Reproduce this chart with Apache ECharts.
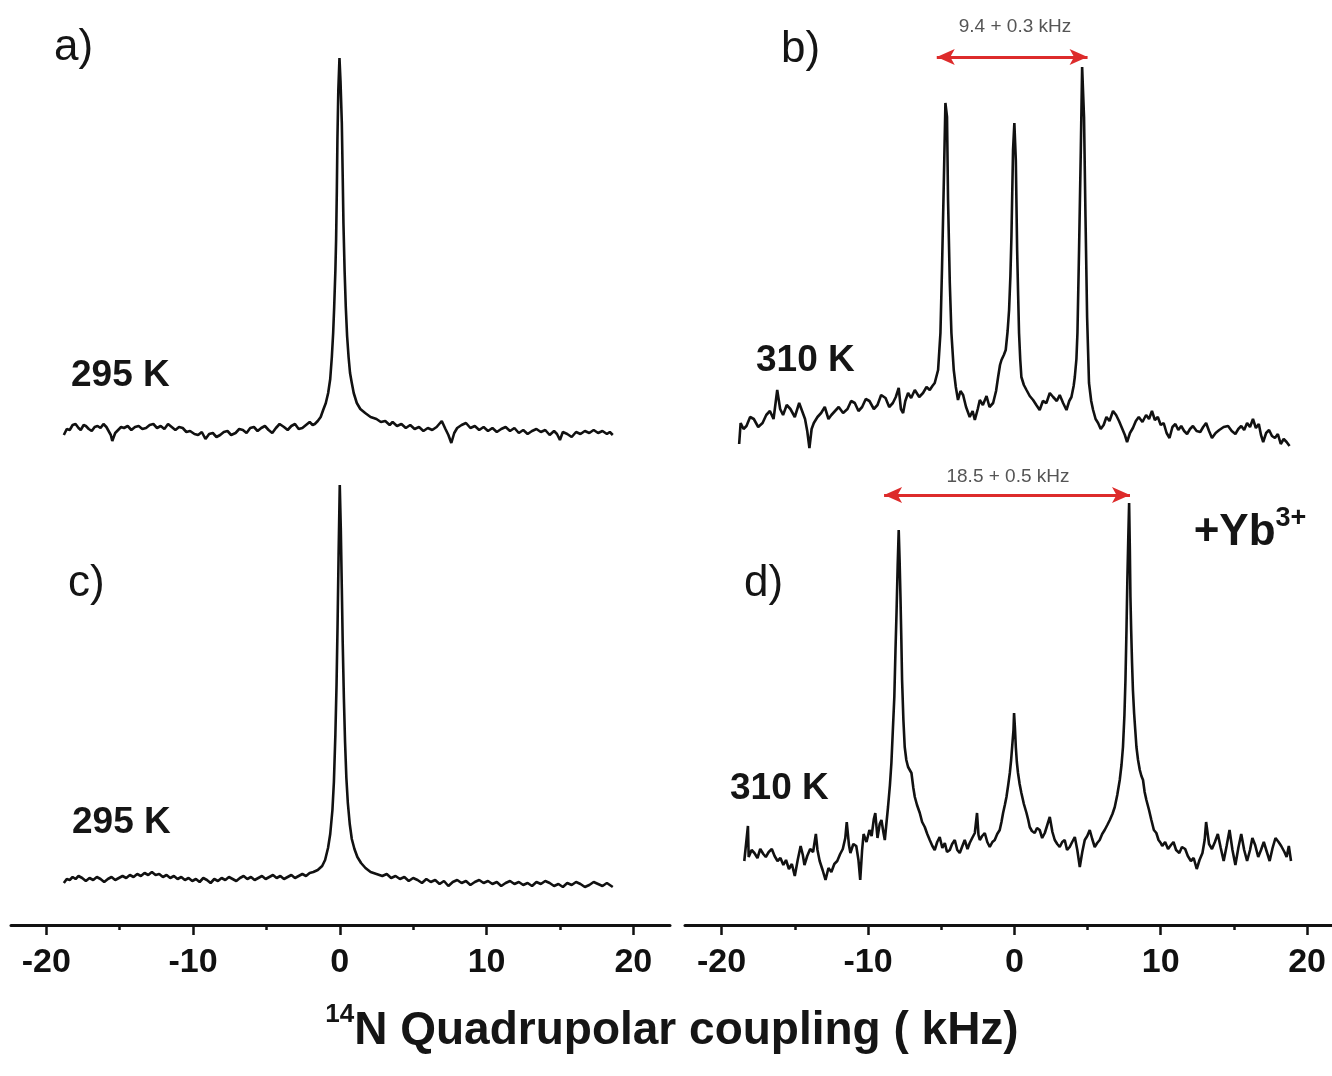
<!DOCTYPE html>
<html>
<head>
<meta charset="utf-8">
<script src="https://cdn.jsdelivr.net/npm/echarts@6/dist/echarts.min.js"></script>
<style>
  html, body { margin: 0; padding: 0; background: #fff; }
  #chart { width: 1332px; height: 1076px; }
</style>
</head>
<body>
<div id="chart"></div>
<script>
// 14N spectra, [kHz, intensity a.u.]
const specA = [[-18.8,-4],[-18.6,2],[-18.4,1],[-18.2,6],[-18.0,7],[-17.8,3],[-17.65,1],[-17.45,6],[-17.3,5],[-17.1,2],[-16.9,0],[-16.7,4],[-16.5,5],[-16.3,3],[-16.1,7],[-15.9,4],[-15.75,0],[-15.6,-4],[-15.5,-10],[-15.3,-2],[-15.1,1],[-14.9,4],[-14.7,3],[-14.45,5],[-14.2,1],[-13.95,4],[-13.7,5],[-13.45,2],[-13.2,3],[-12.95,6],[-12.7,7],[-12.45,3],[-12.2,5],[-11.95,2],[-11.7,7],[-11.45,4],[-11.2,1],[-10.95,4],[-10.7,3],[-10.45,-1],[-10.2,0],[-9.9,-3],[-9.65,-4],[-9.4,-1],[-9.15,-8],[-8.9,-3],[-8.65,-2],[-8.4,-6],[-8.15,-4],[-7.9,-1],[-7.65,0],[-7.4,-4],[-7.1,-2],[-6.85,2],[-6.6,1],[-6.35,-2],[-6.1,3],[-5.85,4],[-5.6,0],[-5.35,3],[-5.1,5],[-4.85,1],[-4.6,-2],[-4.35,3],[-4.1,7],[-3.8,4],[-3.55,1],[-3.3,5],[-3.05,7],[-2.8,2],[-2.55,3],[-2.3,6],[-2.05,9],[-1.85,6],[-1.7,7],[-1.5,10],[-1.3,14],
  [-1.13,21],[-0.95,28],[-0.79,38],[-0.65,52],[-0.54,74],[-0.45,98],[-0.38,124],[-0.3,160],[-0.25,191],[-0.2,240],[-0.16,291],[-0.1,340],[-0.02,373],[0.05,350],[0.14,308],[0.2,255],[0.25,208],[0.33,160],[0.41,124],[0.5,95],[0.6,74],[0.7,58],[0.82,48],[0.95,38],[1.16,28],[1.4,22],[1.73,18],[2.1,14],[2.5,12],
  [2.8,9],[3.1,10],[3.4,6],[3.6,9],[3.9,5],[4.2,7],[4.5,3],[4.8,6],[5.1,2],[5.4,4],[5.7,0],[6.0,3],[6.3,1],[6.6,4],[6.95,10],[7.2,2],[7.4,-4],[7.6,-12],[7.8,-2],[8.0,3],[8.3,6],[8.6,8],[8.9,3],[9.2,5],[9.5,1],[9.8,4],[10.1,0],[10.4,3],[10.7,-1],[11.0,2],[11.3,4],[11.6,0],[11.9,3],[12.2,-2],[12.5,1],[12.8,-3],[13.1,0],[13.4,2],[13.7,-1],[14.0,1],[14.3,-4],[14.6,0],[14.8,-3],[15.0,-9],[15.2,-1],[15.5,-3],[15.8,-6],[16.1,-1],[16.4,-3],[16.7,0],[17.0,-2],[17.3,1],[17.6,-2],[17.9,0],[18.2,-3],[18.4,-1],[18.6,-4]]

const specB = [[-18.8,-13],[-18.7,8],[-18.5,2],[-18.3,5],[-18.05,14],[-17.8,12],[-17.5,4],[-17.2,8],[-16.95,16],[-16.7,20],[-16.45,12],[-16.2,41],[-16.0,22],[-15.8,16],[-15.55,26],[-15.3,22],[-15.0,14],[-14.7,28],[-14.5,20],[-14.3,12],[-14.15,0],[-14.0,-17],[-13.85,2],[-13.7,8],[-13.45,14],[-13.2,18],[-12.95,24],[-12.7,12],[-12.5,16],[-12.25,20],[-12.0,24],[-11.7,18],[-11.4,22],[-11.15,30],[-10.9,28],[-10.65,20],[-10.4,24],[-10.15,32],[-9.9,30],[-9.6,22],[-9.35,26],[-9.1,36],[-8.8,33],[-8.55,24],[-8.3,28],[-8.1,34],[-7.9,43],[-7.75,22],[-7.6,18],[-7.45,30],[-7.26,38],[-7.05,33],[-6.8,41],[-6.5,34],[-6.24,38],[-6.0,44],[-5.78,41],[-5.6,45],[-5.44,48],[-5.21,61],
  [-5.05,98],[-4.94,164],[-4.82,248],[-4.71,328],[-4.6,314],[-4.53,231],[-4.41,148],[-4.3,98],[-4.14,61],[-4.0,44],[-3.85,31],[-3.68,40],[-3.5,36],[-3.3,24],[-3.05,14],[-2.85,20],[-2.7,11],[-2.5,22],[-2.36,31],[-2.15,26],[-1.9,35],[-1.7,24],[-1.45,28],[-1.25,40],[-1.11,54],[-0.98,66],[-0.88,71],[-0.72,76],[-0.59,81],[-0.46,100],[-0.36,121],[-0.27,155],[-0.2,194],[-0.09,281],[0.0,308],[0.1,271],[0.19,181],[0.26,135],[0.32,98],[0.4,72],[0.48,54],[0.65,46],[0.83,41],[1.05,35],[1.28,31],[1.5,26],[1.73,21],[1.95,30],[2.19,28],[2.42,38],[2.65,34],[2.9,30],[3.1,36],[3.33,28],[3.56,21],[3.75,30],[3.9,34],[4.05,45],[4.13,54],[4.24,72],[4.31,98],[4.42,181],[4.54,281],[4.63,364],[4.76,314],[4.86,214],[4.97,114],[5.1,48],[5.25,30],[5.38,21],[5.55,12],[5.72,8],[5.9,2],[6.1,6],[6.29,14],[6.5,10],[6.74,20],[6.95,16],[7.15,10],[7.35,3],[7.55,-4],[7.7,-11],[7.9,-2],[8.1,3],[8.3,10],[8.5,14],[8.75,9],[9.0,16],[9.2,12],[9.4,20],[9.6,11],[9.8,14],[10.0,6],[10.2,8],[10.4,-2],[10.6,-7],[10.8,4],[11.0,7],[11.2,1],[11.4,5],[11.6,0],[11.8,-3],[12.0,2],[12.2,5],[12.45,0],[12.7,-1],[12.9,4],[13.1,8],[13.3,0],[13.5,-7],[13.75,-2],[14.0,1],[14.3,4],[14.6,5],[14.85,0],[15.1,-3],[15.3,2],[15.5,5],[15.7,1],[15.9,8],[16.1,4],[16.3,12],[16.5,3],[16.7,7],[16.85,-4],[17.0,-11],[17.2,-2],[17.4,1],[17.6,-5],[17.8,-7],[18.0,-3],[18.2,-13],[18.4,-8],[18.6,-11],[18.8,-15]]

const specC = [[-18.8,-3],[-18.6,1],[-18.4,0],[-18.2,3],[-18.0,1],[-17.8,4],[-17.55,2],[-17.3,-1],[-17.05,2],[-16.8,0],[-16.55,3],[-16.3,1],[-16.05,-2],[-15.8,1],[-15.55,3],[-15.3,0],[-15.05,2],[-14.8,4],[-14.55,2],[-14.3,5],[-14.05,3],[-13.8,6],[-13.55,4],[-13.3,7],[-13.05,5],[-12.8,8],[-12.55,5],[-12.3,6],[-12.05,3],[-11.8,5],[-11.55,2],[-11.3,4],[-11.05,1],[-10.8,3],[-10.55,0],[-10.3,2],[-10.05,-1],[-9.8,1],[-9.55,-2],[-9.3,2],[-9.05,0],[-8.8,-3],[-8.55,1],[-8.3,-1],[-8.05,2],[-7.8,0],[-7.55,3],[-7.3,1],[-7.05,-1],[-6.8,2],[-6.55,4],[-6.3,1],[-6.05,3],[-5.8,0],[-5.55,2],[-5.3,4],[-5.05,1],[-4.8,3],[-4.55,5],[-4.3,2],[-4.05,4],[-3.8,1],[-3.55,3],[-3.3,5],[-3.05,2],[-2.8,4],[-2.55,6],[-2.3,4],[-2.05,7],[-1.8,8],
  [-1.5,10],[-1.2,14],[-1.0,20],[-0.8,32],[-0.65,46],[-0.5,70],[-0.4,98],[-0.3,145],[-0.22,195],[-0.15,255],[-0.08,325],[0.0,395],[0.07,352],[0.14,292],[0.2,238],[0.28,182],[0.36,138],[0.45,102],[0.55,77],[0.68,56],[0.82,41],[1.0,31],[1.2,23],[1.45,17],[1.75,12],[2.1,8],[2.5,6],
  [2.9,4],[3.2,6],[3.5,2],[3.8,4],[4.1,1],[4.4,3],[4.7,-1],[5.0,2],[5.3,0],[5.6,-3],[5.9,1],[6.2,-2],[6.5,0],[6.8,-4],[7.1,-1],[7.4,-6],[7.7,-2],[8.0,0],[8.3,-3],[8.6,-1],[8.9,-5],[9.2,-2],[9.5,0],[9.8,-3],[10.1,-1],[10.4,-4],[10.7,-2],[11.0,-6],[11.3,-3],[11.6,-1],[11.9,-4],[12.2,-2],[12.5,-5],[12.8,-3],[13.1,-6],[13.4,-2],[13.7,-4],[14.0,-1],[14.3,-3],[14.6,-6],[14.9,-4],[15.2,-7],[15.5,-3],[15.8,-5],[16.1,-2],[16.4,-4],[16.7,-7],[17.0,-5],[17.3,-2],[17.6,-4],[17.9,-6],[18.2,-3],[18.4,-5],[18.6,-7]]

const specD = [[-18.45,19],[-18.3,40],[-18.2,54],[-18.15,23],[-17.95,30],[-17.76,27],[-17.55,22],[-17.36,31],[-17.15,26],[-16.98,23],[-16.78,28],[-16.57,31],[-16.38,24],[-16.18,19],[-15.98,22],[-15.78,15],[-15.6,20],[-15.4,11],[-15.2,16],[-15.0,4],[-14.8,20],[-14.6,34],[-14.45,25],[-14.34,15],[-14.15,24],[-13.95,31],[-13.75,28],[-13.56,46],[-13.45,30],[-13.3,19],[-13.1,10],[-12.9,0],[-12.7,12],[-12.5,8],[-12.3,16],[-12.1,19],[-11.9,26],[-11.72,31],[-11.55,42],[-11.45,58],[-11.3,35],[-11.2,27],[-11.0,36],[-10.8,34],[-10.65,20],[-10.53,0],[-10.4,30],[-10.3,46],[-10.1,38],[-9.9,50],[-9.75,44],[-9.6,61],[-9.5,67],[-9.35,42],[-9.2,56],[-9.08,60],[-8.95,48],[-8.85,40],[-8.73,58],[-8.63,73],
  [-8.5,95],[-8.4,117],[-8.3,150],[-8.2,183],[-8.12,230],[-8.05,267],[-7.97,315],[-7.9,350],[-7.84,320],[-7.78,283],[-7.72,240],[-7.67,200],[-7.58,160],[-7.49,133],[-7.38,120],[-7.26,113],[-7.15,112],[-7.03,107],[-6.9,92],[-6.8,83],[-6.65,75],[-6.46,67],[-6.3,58],[-6.12,53],[-5.95,46],[-5.78,40],[-5.6,34],[-5.44,30],[-5.27,38],[-5.1,43],[-4.92,32],[-4.75,37],[-4.6,28],[-4.41,30],[-4.25,36],[-4.07,40],[-3.9,30],[-3.73,27],[-3.55,34],[-3.39,40],[-3.2,31],[-3.05,37],[-2.88,42],[-2.7,47],[-2.55,67],[-2.45,45],[-2.36,40],[-2.2,44],[-2.02,47],[-1.85,38],[-1.68,33],[-1.5,38],[-1.34,40],[-1.17,46],[-1.0,50],[-0.88,58],[-0.77,67],[-0.65,75],[-0.54,83],[-0.42,95],[-0.31,107],[-0.22,120],[-0.13,137],[-0.06,150],[-0.02,167],[0.04,152],[0.1,133],[0.17,118],[0.25,107],[0.36,96],[0.48,87],[0.65,76],[0.83,67],[0.95,60],[1.05,53],[1.2,49],[1.39,47],[1.55,52],[1.73,50],[1.9,42],[2.08,47],[2.25,55],[2.42,63],[2.6,48],[2.76,40],[2.93,36],[3.1,33],[3.27,38],[3.44,40],[3.6,30],[3.78,33],[3.95,38],[4.13,43],[4.3,30],[4.47,13],[4.64,28],[4.81,40],[4.98,44],[5.15,50],[5.32,41],[5.49,33],[5.66,37],[5.83,40],[6.0,46],[6.17,50],[6.35,55],[6.52,60],[6.7,66],[6.86,73],[7.03,85],[7.2,100],[7.32,115],[7.42,133],[7.52,165],[7.59,200],[7.66,250],[7.72,300],[7.78,340],[7.84,377],[7.89,330],[7.93,283],[7.98,250],[8.04,217],[8.1,190],[8.18,167],[8.26,150],[8.34,133],[8.45,120],[8.57,110],[8.68,104],[8.79,100],[8.9,88],[9.02,80],[9.2,70],[9.36,60],[9.53,50],
  [9.7,47],[9.85,40],[10.0,37],[10.1,34],[10.3,38],[10.5,31],[10.7,35],[10.87,38],[11.05,30],[11.27,27],[11.45,33],[11.67,31],[11.85,24],[12.06,19],[12.25,22],[12.46,11],[12.65,20],[12.85,27],[13.0,40],[13.1,58],[13.3,36],[13.5,31],[13.7,38],[13.9,46],[14.1,32],[14.3,19],[14.5,34],[14.7,50],[14.9,30],[15.1,15],[15.3,32],[15.5,46],[15.7,30],[15.9,19],[16.1,30],[16.26,42],[16.45,35],[16.66,23],[16.85,30],[17.04,38],[17.25,28],[17.44,19],[17.64,32],[17.84,42],[18.05,38],[18.23,34],[18.45,28],[18.6,23],[18.75,34],[18.9,19]]

const majorTicks = [-20, -10, 0, 10, 20]
const minorTicks = [-15, -5, 5, 15]
// splitting arrows: [x start, x end, level]
const arrowB = [-5.3, 5.0, 374]
const arrowD = [-8.9, 7.9, 385]

const FONT = '"Liberation Sans", Arial, sans-serif'
const chart = echarts.init(document.getElementById('chart'), null, { renderer: 'canvas' })

const gridL = { left: 11, width: 659 }, gridR = { left: 685, width: 647 }
const hiddenX = (g, min, max) => ({ gridIndex: g, type: 'value', min, max, show: false })
const mainX = (g, min, max) => ({
  gridIndex: g, type: 'value', min, max, position: 'bottom',
  axisLine: { show: true, onZero: false, lineStyle: { color: '#111', width: 3 } },
  axisTick: { show: true, customValues: majorTicks, length: 10, lineStyle: { color: '#111', width: 2.5 } },
  axisLabel: { show: true, customValues: majorTicks, margin: 21, color: '#111', fontSize: 34, fontWeight: 'bold', fontFamily: FONT },
  splitLine: { show: false }
})
const minorX = (g, min, max) => ({
  gridIndex: g, type: 'value', min, max, position: 'bottom',
  axisLine: { show: false, onZero: false },
  axisTick: { show: true, customValues: minorTicks, length: 5, lineStyle: { color: '#111', width: 2.5 } },
  axisLabel: { show: false }, splitLine: { show: false }
})
const hiddenY = (g, min, max) => ({ gridIndex: g, type: 'value', min, max, show: false })

const spectrum = (data, xi, yi, extra) => Object.assign({
  type: 'line', data, xAxisIndex: xi, yAxisIndex: yi, showSymbol: false, symbol: 'none',
  animation: false, lineStyle: { color: '#111', width: 2.6 }, z: 3
}, extra || {})

const arrow = a => ({
  silent: true, symbol: ['arrow', 'arrow'], symbolSize: [12, 18],
  lineStyle: { color: '#dd2b2b', width: 3, type: 'solid' }, label: { show: false },
  data: [[{ coord: [a[0], a[2]] }, { coord: [a[1], a[2]] }]]
})

const txt = (x, y, text, size, weight, align, extra) => ({
  type: 'text', style: Object.assign({ x, y, text, font: `${weight} ${size}px ${FONT}`, fill: '#151515',
    textAlign: align || 'left', textVerticalAlign: 'middle' }, extra || {})
})

chart.setOption({
  animation: false,
  backgroundColor: '#fff',
  grid: [
    { ...gridL, top: 0, height: 450, outerBoundsMode: 'none' },
    { ...gridR, top: 0, height: 450, outerBoundsMode: 'none' },
    { ...gridL, top: 475, height: 450, outerBoundsMode: 'none' },
    { ...gridR, top: 475, height: 450, outerBoundsMode: 'none' }
  ],
  xAxis: [
    hiddenX(0, -22.4, 22.5), hiddenX(1, -22.5, 21.7),
    mainX(2, -22.4, 22.5), mainX(3, -22.5, 21.7),
    minorX(2, -22.4, 22.5), minorX(3, -22.5, 21.7)
  ],
  yAxis: [hiddenY(0, -19, 431), hiddenY(1, -19, 431), hiddenY(2, -45, 405), hiddenY(3, -45, 405)],
  series: [
    spectrum(specA, 0, 0),
    spectrum(specB, 1, 1, { markLine: arrow(arrowB) }),
    spectrum(specC, 2, 2),
    spectrum(specD, 3, 3, { markLine: arrow(arrowD) })
  ],
  graphic: [
    txt(54, 48, 'a)', 44, 'normal'),
    txt(781, 50, 'b)', 44, 'normal'),
    txt(68, 584, 'c)', 44, 'normal'),
    txt(744, 584, 'd)', 44, 'normal'),
    txt(71, 376, '295 K', 37, 'bold'),
    txt(756, 361, '310 K', 37, 'bold'),
    txt(72, 823, '295 K', 37, 'bold'),
    txt(730, 789, '310 K', 37, 'bold'),
    txt(1015, 27, '9.4 + 0.3 kHz', 19, 'normal', 'center', { fill: '#555' }),
    txt(1008, 477, '18.5 + 0.5 kHz', 19, 'normal', 'center', { fill: '#555' }),
    txt(1250, 530, '{m|+Yb}{s|3+}', 44, 'bold', 'center', {
      rich: {
        m: { fontSize: 44, fontWeight: 'bold', fontFamily: FONT, fill: '#151515', lineHeight: 50, verticalAlign: 'bottom' },
        s: { fontSize: 27, fontWeight: 'bold', fontFamily: FONT, fill: '#151515', lineHeight: 50, verticalAlign: 'top' }
      }
    }),
    txt(672, 1028, '{s|14}{m|N Quadrupolar coupling ( kHz)}', 46, 'bold', 'center', {
      rich: {
        m: { fontSize: 46, fontWeight: 'bold', fontFamily: FONT, fill: '#151515', lineHeight: 52, verticalAlign: 'bottom' },
        s: { fontSize: 26, fontWeight: 'bold', fontFamily: FONT, fill: '#151515', lineHeight: 52, verticalAlign: 'top' }
      }
    })
  ]
})
window.addEventListener('resize', () => chart.resize())
</script>
</body>
</html>
